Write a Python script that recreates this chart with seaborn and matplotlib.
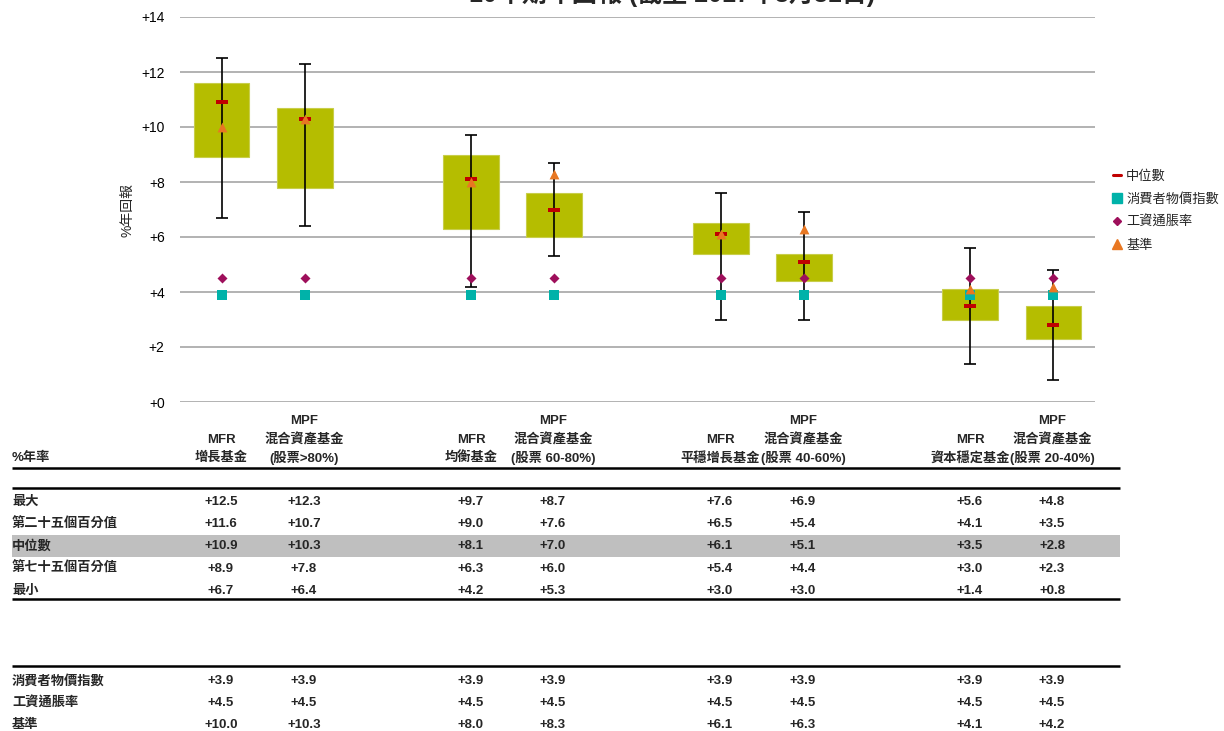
import matplotlib
matplotlib.use("Agg")
import matplotlib.pyplot as plt
import seaborn as sns
import pandas as pd
import numpy as np
from matplotlib.lines import Line2D
from matplotlib.patches import Rectangle

# ---- data -------------------------------------------------------------
header_top = ["", "MPF", "", "MPF", "", "MPF", "", "MPF"]
header_mid = ["MFR", "混合資產基金", "MFR", "混合資產基金",
              "MFR", "混合資產基金", "MFR", "混合資產基金"]
header_bot = ["增長基金", "(股票>80%)", "均衡基金", "(股票 60-80%)",
              "平穩增長基金", "(股票 40-60%)", "資本穩定基金", "(股票 20-40%)"]

maximum = [12.5, 12.3, 9.7, 8.7, 7.6, 6.9, 5.6, 4.8]
pct25 = [11.6, 10.7, 9.0, 7.6, 6.5, 5.4, 4.1, 3.5]
median = [10.9, 10.3, 8.1, 7.0, 6.1, 5.1, 3.5, 2.8]
pct75 = [8.9, 7.8, 6.3, 6.0, 5.4, 4.4, 3.0, 2.3]
minimum = [6.7, 6.4, 4.2, 5.3, 3.0, 3.0, 1.4, 0.8]
cpi = [3.9, 3.9, 3.9, 3.9, 3.9, 3.9, 3.9, 3.9]
wage = [4.5, 4.5, 4.5, 4.5, 4.5, 4.5, 4.5, 4.5]
benchmark = [10.0, 10.3, 8.0, 8.3, 6.1, 6.3, 4.1, 4.2]

stat_rows = ["最大", "第二十五個百分值", "中位數", "第七十五個百分值", "最小"]
ref_rows = ["消費者物價指數", "工資通脹率", "基準"]
yticks = [0, 2, 4, 6, 8, 10, 12, 14]

title = "10年期年回報 (截至 2017年3月31日)"
ylabel = "%年回報"
table_label = "%年率"
legend_labels = ["中位數", "消費者物價指數", "工資通脹率", "基準"]

# ---- style ------------------------------------------------------------
sns.set_theme(style="white")
plt.rcParams["font.family"] = ["Liberation Sans", "Noto Sans CJK TC", "DejaVu Sans"]

OLIVE = "#B5BD00"
RED = "#C00000"
TEAL = "#00B2A9"
MAROON = "#9E0F5B"
ORANGE = "#E87722"
GRID = "#A6A6A6"

W, H = 1224, 731
fig = plt.figure(figsize=(W / 100, H / 100), dpi=100)

def fx(px):
    return px / W

def fy(py):
    return 1 - py / H

ax = fig.add_axes([fx(180), fy(402), fx(1095) - fx(180), fy(17) - fy(402)])

# two funds per group, one empty slot between groups
pos = np.array([g * 3 + m for g in range(4) for m in range(2)], dtype=float)
df = pd.DataFrame({
    "pos": pos,
    "span": np.array(pct25) - np.array(pct75),
    "low": pct75,
    "median": median,
    "cpi": cpi,
    "wage": wage,
    "benchmark": benchmark,
})

for y in yticks:
    ax.axhline(y, color=GRID, lw=1.2, zorder=0)

# inter-quartile boxes
ax.bar(df["pos"], df["span"], bottom=df["low"], width=0.67,
       color=OLIVE, edgecolor="#C8CE4A", linewidth=0.8, zorder=2)

# min / max whiskers
ax.errorbar(df["pos"], minimum,
            yerr=[np.zeros(8), np.array(maximum) - np.array(minimum)],
            fmt="none", ecolor="black", elinewidth=1.2, capsize=4,
            capthick=1.2, zorder=3)

dash = [(-2, -0.55), (2, -0.55), (2, 0.55), (-2, 0.55), (-2, -0.55)]
sns.scatterplot(data=df, x="pos", y="median", marker=dash, s=80, color=RED,
                linewidth=0, ax=ax, zorder=4)
sns.scatterplot(data=df, x="pos", y="cpi", marker="s", s=45, color=TEAL,
                linewidth=0, ax=ax, zorder=4)
sns.scatterplot(data=df, x="pos", y="wage", marker="D", s=26, color=MAROON,
                linewidth=0, ax=ax, zorder=5)
sns.scatterplot(data=df, x="pos", y="benchmark", marker="^", s=50, color=ORANGE,
                linewidth=0, ax=ax, zorder=6)

ax.set_xlim(-0.5, 10.5)
ax.set_ylim(0, 14)
ax.set_yticks(yticks)
ax.set_yticklabels([f"+{v}" for v in yticks], fontsize=10, color="black")
ax.tick_params(axis="y", length=0, pad=11)
ax.set_xticks([])
ax.set_xlabel("")
ax.set_ylabel("")
for s in ax.spines.values():
    s.set_visible(False)
ax.set_facecolor("none")

fig.text(fx(127), fy(210), ylabel, rotation=90, ha="center", va="center",
         fontsize=10)
fig.text(fx(672), fy(2), title, ha="center", va="baseline", fontsize=18,
         fontweight="bold")

# legend
handles = [
    Line2D([], [], color=RED, lw=2.2, marker=None),
    Line2D([], [], color=TEAL, marker="s", ls="none", markersize=6.5),
    Line2D([], [], color=MAROON, marker="D", ls="none", markersize=4.5),
    Line2D([], [], color=ORANGE, marker="^", ls="none", markersize=6.5),
]
fig.legend(handles, legend_labels, loc="upper left",
           bbox_to_anchor=(fx(1113), fy(170)), frameon=False, fontsize=9.5,
           handlelength=0.6, handletextpad=0.4, labelspacing=0.78,
           borderaxespad=0, borderpad=0)

# ---- table ------------------------------------------------------------
col_x = [221, 304, 471, 553, 720, 803, 970, 1052]
TFS = 9.5

fig.text(fx(12), fy(458), table_label, ha="left", va="center", fontsize=TFS,
         fontweight="bold")
for cx, a, b, c in zip(col_x, header_top, header_mid, header_bot):
    if a:
        fig.text(fx(cx), fy(421), a, ha="center", va="center", fontsize=TFS,
                 fontweight="bold")
    fig.text(fx(cx), fy(440), b, ha="center", va="center", fontsize=TFS,
             fontweight="bold")
    fig.text(fx(cx), fy(458), c, ha="center", va="center", fontsize=TFS,
             fontweight="bold")

def hline(py, lw=1.8):
    fig.add_artist(Line2D([fx(12), fx(1120)], [fy(py), fy(py)], color="black",
                          lw=lw, solid_capstyle="butt"))

fig.add_artist(Rectangle((fx(12), fy(557)), fx(1120) - fx(12), fy(535) - fy(557),
                         transform=fig.transFigure, color="#BFBFBF", lw=0,
                         zorder=0))
hline(468)
hline(488)
hline(599)
hline(666)

stat_values = [maximum, pct25, median, pct75, minimum]
for i, (name, vals) in enumerate(zip(stat_rows, stat_values)):
    y = 502 + i * 22.2
    style = "italic" if name == "中位數" else "normal"
    fig.text(fx(12), fy(y), name, ha="left", va="center", fontsize=TFS,
             fontweight="bold", style=style)
    for cx, v in zip(col_x, vals):
        fig.text(fx(cx), fy(y), f"+{v:.1f}", ha="center", va="center",
                 fontsize=TFS, fontweight="bold")

ref_values = [cpi, wage, benchmark]
for i, (name, vals) in enumerate(zip(ref_rows, ref_values)):
    y = 681 + i * 22
    fig.text(fx(12), fy(y), name, ha="left", va="center", fontsize=TFS,
             fontweight="bold")
    for cx, v in zip(col_x, vals):
        fig.text(fx(cx), fy(y), f"+{v:.1f}", ha="center", va="center",
                 fontsize=TFS, fontweight="bold")

fig.savefig("out.png", dpi=100)
